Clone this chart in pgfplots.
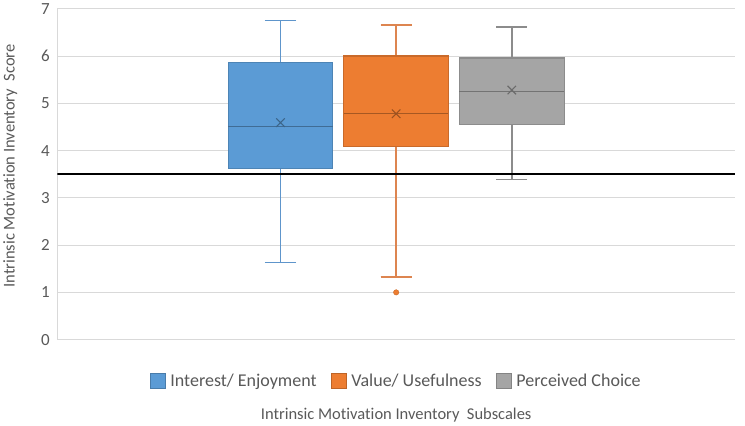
\documentclass[border=0pt]{standalone}
\usepackage{pgfplots}
\pgfplotsset{compat=1.18}
\usepgfplotslibrary{statistics}
\usepackage{fontspec}
\setmainfont{Carlito}[Ligatures=NoCommon]
\definecolor{cblue}{HTML}{5B9BD5}
\definecolor{corange}{HTML}{ED7D31}
\definecolor{cgray}{HTML}{A5A5A5}
\definecolor{txt}{HTML}{595959}
\definecolor{gridc}{HTML}{D9D9D9}
\definecolor{wblue}{HTML}{5E95CB}
\definecolor{worange}{HTML}{DD8550}
\definecolor{wgray}{HTML}{8C8C8C}
\begin{document}
\begin{tikzpicture}
\begin{axis}[
  scale only axis, width=678pt, height=331pt,
  xmin=0.07, xmax=5.93, ymin=0, ymax=7,
  ytick={0,1,...,7}, xtick=\empty,
  axis lines*=left,
  axis line style={gridc, line width=0.8pt},
  major tick length=0pt,
  ymajorgrids, grid style={gridc, line width=0.8pt},
  boxplot/draw direction=y,
  /pgf/number format/assume math mode=true,
  yticklabel style={font=\fontsize{17}{20}\selectfont, text=txt, xshift=-4pt},
  ylabel={Intrinsic Motivation Inventory\ \ Score},
  ylabel style={font=\fontsize{16.5}{19}\selectfont, text=txt, at={(axis description cs:-0.0693,0.525)}, anchor=center},
  xlabel={Intrinsic Motivation Inventory\ \ Subscales},
  xlabel style={font=\fontsize{16.5}{19}\selectfont, text=txt, at={(axis description cs:0.5,-0.227)}, anchor=center},
  legend columns=3,
  legend style={draw=none, at={(axis description cs:0.5,-0.125)}, anchor=center,
    font=\fontsize{18}{21}\selectfont, text=txt,
    /tikz/every odd column/.append style={column sep=3pt},
    /tikz/every even column/.append style={column sep=12pt}},
  legend image code/.code={\draw[#1] (0pt,-7.5pt) rectangle (15pt,7.5pt);},
]
\addplot[forget plot, fill=cblue, draw=cblue!85!black, line width=1.2pt,
  boxplot prepared={draw position=2, lower whisker=1.63, lower quartile=3.62, median=4.50,
    upper quartile=5.87, upper whisker=6.75, box extend=0.905, whisker extend=0.27,
    every whisker/.style={draw=wblue, line width=1.7pt},
    every median/.style={draw=cblue!70!black, line width=1.1pt}}] coordinates {};
\addplot[forget plot, fill=corange, draw=corange!85!black, line width=1.2pt,
  boxplot prepared={draw position=3, lower whisker=1.33, lower quartile=4.08, median=4.78,
    upper quartile=6.00, upper whisker=6.65, box extend=0.905, whisker extend=0.27,
    every whisker/.style={draw=worange, line width=1.7pt},
    every median/.style={draw=corange!70!black, line width=1.1pt}}] coordinates {};
\addplot[forget plot, fill=cgray, draw=cgray!85!black, line width=1.2pt,
  boxplot prepared={draw position=4, lower whisker=3.39, lower quartile=4.55, median=5.25,
    upper quartile=5.96, upper whisker=6.62, box extend=0.905, whisker extend=0.27,
    every whisker/.style={draw=wgray, line width=1.7pt},
    every median/.style={draw=cgray!70!black, line width=1.1pt}}] coordinates {};
% means
\addplot[forget plot, only marks, mark=x, mark size=6pt, draw=cblue!65!black, line width=1.1pt] coordinates {(2,4.59)};
\addplot[forget plot, only marks, mark=x, mark size=6pt, draw=corange!65!black, line width=1.1pt] coordinates {(3,4.78)};
\addplot[forget plot, only marks, mark=x, mark size=6pt, draw=cgray!65!black, line width=1.1pt] coordinates {(4,5.28)};
% outlier
\addplot[forget plot, only marks, mark=*, mark size=2.7pt, fill=corange, draw=corange!85!black] coordinates {(3,1.0)};
% reference line
\addplot[forget plot, black, line width=2pt] coordinates {(0.07,3.5) (5.93,3.5)};
\addlegendimage{fill=cblue, draw=cblue!80!black, line width=0.8pt}
\addlegendentry{Interest/ Enjoyment}
\addlegendimage{fill=corange, draw=corange!80!black, line width=0.8pt}
\addlegendentry{Value/ Usefulness}
\addlegendimage{fill=cgray, draw=cgray!80!black, line width=0.8pt}
\addlegendentry{Perceived Choice}
\end{axis}
\path (current axis.south east) ++(10pt,0pt) coordinate (rpad);
\end{tikzpicture}
\end{document}
